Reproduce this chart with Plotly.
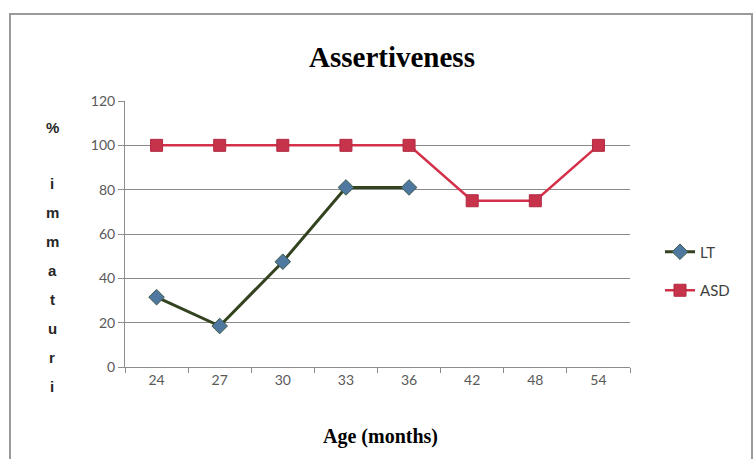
import plotly.graph_objects as go

# Age groups (months) and percentage values per series
ages = ["24", "27", "30", "33", "36", "42", "48", "54"]
lt_values = [31.5, 18.5, 47.5, 81, 81, None, None, None]
asd_values = [100, 100, 100, 100, 100, 75, 75, 100]
y_ticks = [0, 20, 40, 60, 80, 100, 120]
y_title_letters = ["%", "i", "m", "m", "a", "t", "u", "r", "i"]

W, H = 754, 459
L, R, T, B = 125, 124, 101, 92
PW, PH = W - L - R, H - T - B

fig = go.Figure()

fig.add_trace(go.Scatter(
    x=ages, y=lt_values, name="LT", mode="lines+markers", legendgroup="lt",
    line=dict(color="#34431f", width=3),
    marker=dict(symbol="diamond", size=12, color="#4f78a0",
                line=dict(color="#3d5a4a", width=1)),
))
fig.add_trace(go.Scatter(
    x=ages, y=asd_values, name="ASD", mode="lines+markers", legendgroup="asd",
    line=dict(color="#d5304a", width=2.5),
    marker=dict(symbol="square", size=12, color="#c8334c",
                line=dict(color="#b02a40", width=1)),
))

tick_font = dict(family="Lato, Liberation Sans, sans-serif", size=14, color="#595959")

fig.update_layout(
    width=W, height=H,
    margin=dict(l=L, r=R, t=T, b=B),
    paper_bgcolor="white", plot_bgcolor="white",
    showlegend=True,
    legend=dict(x=(660 - L) / PW, y=(H - B - 271) / PH, xanchor="left", yanchor="middle",
                font=dict(family="Lato, Liberation Sans, sans-serif", size=15, color="#404040"),
                bgcolor="rgba(0,0,0,0)", traceorder="grouped", tracegroupgap=16, itemwidth=30),
    xaxis=dict(
        type="category", categoryorder="array", categoryarray=ages,
        showline=True, linecolor="#8c8c8c", linewidth=1,
        ticks="outside", tickson="boundaries", ticklen=5, tickcolor="#8c8c8c",
        showgrid=False, tickfont=tick_font, range=[-0.5, 7.5],
    ),
    yaxis=dict(
        range=[0, 120], tickvals=y_ticks,
        showline=True, linecolor="#8c8c8c", linewidth=1,
        ticks="outside", ticklen=6, tickcolor="#8c8c8c",
        showgrid=True, gridcolor="#8a8a8a", gridwidth=1,
        tickfont=tick_font, zeroline=False,
    ),
)

# Chart title and x-axis title
fig.add_annotation(text="<b>Assertiveness</b>", xref="paper", yref="paper",
                   x=(392 - L) / PW, y=(H - B - 57) / PH,
                   showarrow=False, xanchor="center", yanchor="middle",
                   font=dict(family="Liberation Serif, serif", size=29, color="black"))
fig.add_annotation(text="<b>Age (months)</b>", xref="paper", yref="paper",
                   x=(380 - L) / PW, y=(H - B - 436) / PH,
                   showarrow=False, xanchor="center", yanchor="middle",
                   font=dict(family="Liberation Serif, serif", size=20, color="black"))

# Vertical stacked y-axis title
for i, ch in enumerate(y_title_letters):
    ypix = 127 + (56 if i > 0 else 0) + max(i - 1, 0) * 29
    fig.add_annotation(text="<b>" + ch + "</b>", xref="paper", yref="paper",
                       x=(52 - L) / PW, y=(H - B - ypix) / PH,
                       showarrow=False, xanchor="center", yanchor="middle",
                       font=dict(family="Liberation Sans, sans-serif", size=15, color="#262626"))

# Outer chart border
fig.add_shape(type="rect", xref="paper", yref="paper",
              x0=(10 - L) / PW, x1=(752 - L) / PW,
              y0=(H - B - 470) / PH, y1=(H - B - 14) / PH,
              line=dict(color="#9a9a9a", width=2), fillcolor="rgba(0,0,0,0)", layer="below")

fig.write_html("out.html")
